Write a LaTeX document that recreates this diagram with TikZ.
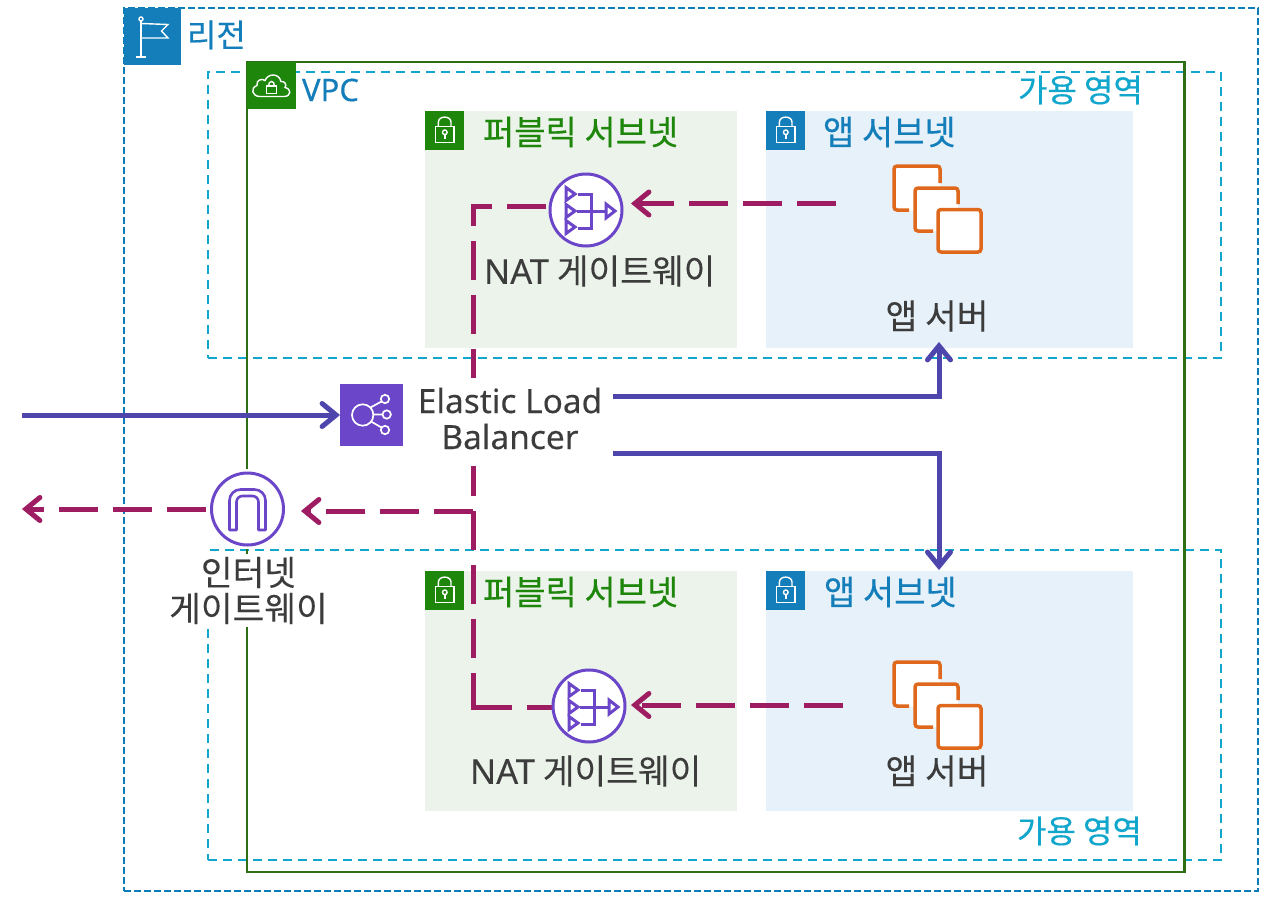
\documentclass[tikz,border=0pt]{standalone}
\usepackage{fontspec}
\setmainfont{Noto Sans CJK KR}[FakeBold=0.1]
\newfontfamily\lat{Noto Sans}[FakeBold=0.1]
\newfontfamily\latmed{Noto Sans}[FakeBold=0.35]
\newfontfamily\krmed{Noto Sans CJK KR}[FakeBold=0.4]
\usetikzlibrary{arrows.meta}
\definecolor{regionblue}{HTML}{147EBA}
\definecolor{regionline}{HTML}{0A7CBA}
\definecolor{vpcline}{HTML}{2E6E14}
\definecolor{awsgreen}{HTML}{1E860B}
\definecolor{azcyan}{HTML}{11A7CC}
\definecolor{pubfill}{HTML}{ECF3EB}
\definecolor{appfill}{HTML}{E7F1F9}
\definecolor{flowviolet}{HTML}{4F46AD}
\definecolor{flowmagenta}{HTML}{9D1C62}
\definecolor{iconviolet}{HTML}{6B46C8}
\definecolor{ec2orange}{HTML}{E0681C}
\definecolor{inktext}{HTML}{3C3C3C}
\pgfdeclarearrow{
  name=Chevron,
  setup code={%
    \pgfarrowssettipend{3.9pt}%
    \pgfarrowssetlineend{-1.5pt}%
    \pgfarrowssetvisualbackend{-1.5pt}%
    \pgfarrowssetbackend{-16.5pt}%
  },
  drawing code={%
    \pgfsetdash{}{0pt}%
    \pgfsetroundcap
    \pgfsetmiterjoin
    \pgfpathmoveto{\pgfpoint{-14pt}{11.5pt}}%
    \pgfpathlineto{\pgfpoint{0pt}{0pt}}%
    \pgfpathlineto{\pgfpoint{-14pt}{-11.5pt}}%
    \pgfusepathqstroke
  },
}
\tikzset{
  every node/.style={outer sep=0pt},
  regionframe/.style={draw=regionline,line width=2pt,dash pattern=on 7pt off 3pt},
  azframe/.style={draw=azcyan,line width=2pt,dash pattern=on 9pt off 6pt},
  vpcframe/.style={draw=vpcline,line width=2.3pt},
  flowtip/.style={-{Chevron}},
  inflow/.style={draw=flowviolet,line width=5pt},
  outflow/.style={draw=flowmagenta,line width=5pt,dash pattern=on 39pt off 15pt},
  hatline/.style={draw=white,line width=1.4pt},
  circicon/.style={circle,draw=iconviolet,fill=white,line width=3pt,minimum size=72pt,inner sep=0pt},
  glyph/.style={draw=iconviolet,line width=3pt},
  ec/.style={draw=ec2orange,line width=3.5pt,rounded corners=3pt},
  lbl/.style={text=inktext,font=\fontsize{34.5}{36}\selectfont,inner sep=0pt,align=center},
  headtxt/.style={font=\fontsize{34}{36}\krmed,inner sep=0pt,anchor=west},
  aztxt/.style={font=\fontsize{32}{36}\krmed,inner sep=0pt,anchor=west,text=azcyan},
}
\newcommand{\lockglyph}[2]{%
  \begin{scope}[shift={(#1,#2)}]
    \draw[hatline] (10.7,15.7) rectangle (29,31.3);
    \draw[hatline] (13.4,15.7) -- (13.4,11) .. controls (13.4,4.5) and (26,4.5) .. (26,11) -- (26,15.7);
    \draw[hatline] (19.8,21.3) circle (2.3pt);
    \draw[hatline] (19.8,23.6) -- (19.8,28);
  \end{scope}}
\newcommand{\natglyph}[2]{%
  \begin{scope}[shift={(#1,#2)}]
    \foreach \yy in {-16,1,17}{\draw[glyph,line join=miter] (-20,\yy-6.5) -- (-11,\yy) -- (-20,\yy+6.5) -- cycle;}
    \draw[glyph] (-8,-16) -- (5,-16) -- (5,18) -- (-8,18);
    \draw[glyph] (-9,1) -- (20,1);
    \draw[glyph] (20,-6) -- (29,1) -- (20,8) -- cycle;
  \end{scope}}
\newcommand{\stackglyph}[1]{%
  \begin{scope}[yshift=-#1pt]
    \fill[white,rounded corners=3pt] (894,166) rectangle (940,211);
    \draw[ec,line cap=butt] (940,183) -- (940,166) -- (894,166) -- (894,210) -- (909,210);
    \fill[white,rounded corners=3pt] (915,188) rectangle (958,231);
    \draw[ec] (958,204) -- (958,188) -- (915,188) -- (915,231) -- (933,231);
    \draw[ec,fill=white] (938,209.5) rectangle (981,252);
  \end{scope}}
\begin{document}
\begin{tikzpicture}[x=1pt,y=-1pt]
\useasboundingbox (0,0) rectangle (1272,910);
\fill[white] (0,0) rectangle (1272,910);
% frames
\node[regionframe,anchor=north west,minimum width=1134pt,minimum height=883pt,inner sep=0pt] (region) at (124,8) {};
\node[azframe,anchor=north west,minimum width=1013pt,minimum height=286pt,inner sep=0pt] (aztop) at (208,72) {};
\node[azframe,anchor=north west,minimum width=1013pt,minimum height=310pt,inner sep=0pt] (azbot) at (208,550) {};
\node[vpcframe,anchor=north west,minimum width=937.5pt,minimum height=810pt,inner sep=0pt] (vpc) at (247,62) {};
% subnets
\node[fill=pubfill,anchor=north west,minimum width=312pt,minimum height=237pt,inner sep=0pt] (pub1) at (425,111) {};
\node[fill=appfill,anchor=north west,minimum width=367pt,minimum height=237pt,inner sep=0pt] (app1) at (766,111) {};
\node[fill=pubfill,anchor=north west,minimum width=312pt,minimum height=240pt,inner sep=0pt] (pub2) at (425,571) {};
\node[fill=appfill,anchor=north west,minimum width=367pt,minimum height=240pt,inner sep=0pt] (app2) at (766,571) {};
% named ends of the connectors
\coordinate (inet) at (21.5,415);
\coordinate (inetout) at (22,509);
\coordinate (elbA) at (613,396);
\coordinate (elbB) at (613,453);
\coordinate (elbAbend) at (939,396);
\coordinate (elbBbend) at (939,453);
\coordinate (appA) at (939,342);
\coordinate (appB) at (939,570);
\coordinate (srvA) at (836,203.5);
\coordinate (srvB) at (843,705);
\coordinate (natAin) at (631,203.5);
\coordinate (natBin) at (631,705);
\coordinate (natAout) at (546,206);
\coordinate (natAbend) at (473,206);
\coordinate (natBbend) at (473,707);
\coordinate (natBend) at (473,709.5);
\coordinate (natBout) at (555,707);
\coordinate (junction) at (473,511);
\coordinate (igwin) at (301,511);
\coordinate (igwout) at (206,509);
% connectors
\draw[outflow] (natAout) -- (natAbend) -- (natBend);
\draw[outflow] (natBbend) -- (natBout);
\draw[outflow,flowtip] (junction) -- (igwin);
\draw[outflow,flowtip] (igwout) -- (inetout);
\draw[outflow,flowtip] (srvA) -- (natAin);
\draw[outflow,flowtip] (srvB) -- (natBin);
\draw[inflow,flowtip] (elbA) -- (elbAbend) -- (appA);
\draw[inflow,flowtip] (elbB) -- (elbBbend) -- (appB);
% labels with white ground
\node[fill=white,inner sep=0pt,minimum width=198pt,minimum height=88pt] (elbground) at (510,422) {};
\node[lbl,font=\fontsize{33.4}{36}\selectfont] (elblabel) at (510,418.5) {\lat Elastic Load\\\lat Balancer};
\node[fill=white,lbl,minimum width=157pt,minimum height=73pt] (igwlabel) at (248.5,590.5) {인터넷\\게이트웨이};
% ELB icon
\node[fill=iconviolet,anchor=north west,minimum width=63pt,minimum height=62pt,inner sep=0pt] (elb) at (340,384) {};
\draw[inflow,flowtip] (inet) -- (elb.west);
\draw[hatline,line width=1.7pt] (362.7,415) circle (10.7pt);
\foreach \px/\py in {385/399,386.7/414.5,385/430}{\draw[hatline,line width=1.7pt] (\px,\py) circle (4.2pt);}
\draw[hatline,line width=1.7pt] (370.5,407.5) -- (381.5,401.5) (373.5,414.5) -- (382.5,414.5) (371,421.5) -- (381.5,427.5);
% gateways
\node[circle,fill=white,minimum size=80pt,inner sep=0pt] (igwhalo) at (247.5,509) {};
\node[circicon] (igw) at (247.5,509) {};
\draw[glyph,line width=2.6pt,line join=round] (229.5,530) [rounded corners=11pt] -- (229.5,489.5) -- (265.5,489.5) [sharp corners] -- (265.5,530) -- (258.5,530) [rounded corners=6pt] -- (258.5,496) -- (236.5,496) [sharp corners] -- (236.5,530) -- cycle;
\node[circicon] (nat1) at (586,210) {};
\natglyph{586}{210}
\node[circicon] (nat2) at (589,706) {};
\natglyph{589}{706}
% instance stacks
\stackglyph{0}
\stackglyph{496}
% corner badges
\node[fill=regionblue,anchor=north west,minimum size=57pt,inner sep=0pt] (regionbadge) at (124,8) {};
\draw[hatline] (141,21) -- (141,57) (136,57) -- (146,57);
\draw[hatline] (141,19) circle (2pt);
\draw[hatline] (141,23.5) -- (168,24.5) -- (161.5,31) -- (168,38) -- (141,38);
\node[fill=awsgreen,anchor=north west,minimum width=49pt,minimum height=47pt,inner sep=0pt] (vpcbadge) at (247,62) {};
\draw[hatline] (260,96.5) .. controls (252,96.5) and (250,88) .. (257,85.5) .. controls (256,80) and (262,78) .. (265,80.5) .. controls (268,73) and (279,73) .. (281,81.5) .. controls (285,81) and (287,85) .. (285,87.5) .. controls (292,89) and (291,96.5) .. (284,96.5) -- cycle;
\draw[hatline] (266.5,86) rectangle (276.5,93.5);
\draw[hatline] (268.5,86) .. controls (268.5,80) and (274.5,80) .. (274.5,86);
\foreach \nm/\xx/\yy/\cc in {l1/425/111/awsgreen,l2/766/111/regionblue,l3/425/571/awsgreen,l4/766/571/regionblue}{
  \node[fill=\cc,anchor=north west,minimum size=39pt,inner sep=0pt] (\nm) at (\xx,\yy) {};
  \lockglyph{\xx}{\yy}
}
% texts
\node[headtxt,text=regionblue,font=\fontsize{32}{36}\krmed] (tregion) at (187,35) {리전};
\node[headtxt,text=regionblue,font=\fontsize{31}{36}\latmed] (tvpc) at (302,90) {VPC};
\node[aztxt] (taz1) at (1018,90) {가용 영역};
\node[aztxt] (taz2) at (1017,831) {가용 영역};
\node[headtxt,text=awsgreen] (tpub1) at (483,132) {퍼블릭 서브넷};
\node[headtxt,text=awsgreen] (tpub2) at (483,592) {퍼블릭 서브넷};
\node[headtxt,text=regionblue] (tapp1) at (823,132) {앱 서브넷};
\node[headtxt,text=regionblue] (tapp2) at (824,592) {앱 서브넷};
\node[lbl,anchor=west] (tnat1) at (484,271) {{\lat NAT} 게이트웨이};
\node[lbl,anchor=west] (tnat2) at (470,771) {{\lat NAT} 게이트웨이};
\node[lbl] (tsrv1) at (937,316) {앱 서버};
\node[lbl] (tsrv2) at (937,771) {앱 서버};
\end{tikzpicture}
\end{document}
